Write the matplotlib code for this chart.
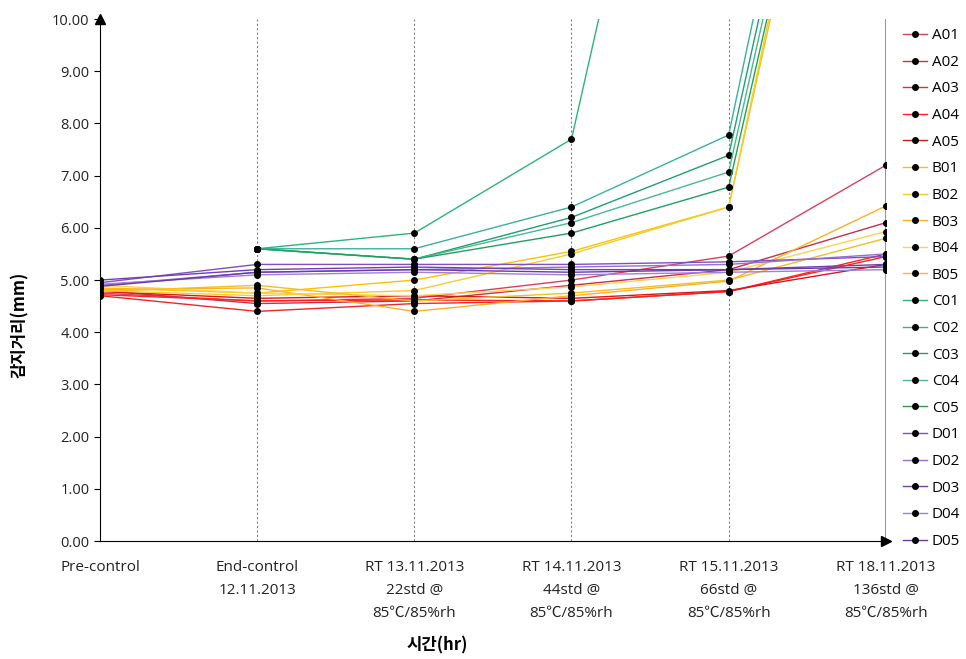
import numpy as np
import matplotlib
matplotlib.use("Agg")
import matplotlib.pyplot as plt

plt.rcParams['font.family'] = ['Open Sans', 'Noto Sans CJK KR', 'DejaVu Sans']

categories = ["Pre-control", "End-control\n12.11.2013", "RT 13.11.2013\n22std @\n85\u2103/85%rh",
              "RT 14.11.2013\n44std @\n85\u2103/85%rh", "RT 15.11.2013\n66std @\n85\u2103/85%rh",
              "RT 18.11.2013\n136std @\n85\u2103/85%rh"]
nan = np.nan
A01 = [4.75, 4.60, 4.65, 5.00, 5.46, 7.20]
A02 = [4.80, 4.55, 4.60, 4.90, 5.20, 6.10]
A03 = [4.70, 4.40, 4.55, 4.60, 4.78, 5.50]
A04 = [4.72, 4.60, 4.62, 4.60, 4.78, 5.45]
A05 = [4.78, 4.65, 4.70, 4.65, 4.80, 5.30]
B01 = [4.85, 4.75, 5.00, 5.55, 6.40, 20.0]
B02 = [4.80, 4.70, 4.80, 5.50, 6.40, 20.5]
B03 = [4.82, 4.85, 4.40, 4.70, 4.98, 6.42]
B04 = [4.90, 4.75, 4.70, 4.87, 5.15, 5.93]
B05 = [4.78, 4.90, 4.60, 4.75, 5.00, 5.80]
C01 = [nan, 5.60, 5.90, 7.70, 21.0, 25.0]
C02 = [nan, 5.60, 5.60, 6.40, 7.78, 22.0]
C03 = [nan, 5.60, 5.40, 6.20, 7.39, 21.0]
C04 = [nan, 5.60, 5.40, 6.10, 7.07, 20.5]
C05 = [nan, 5.60, 5.40, 5.90, 6.78, 20.0]
D01 = [4.95, 5.30, 5.30, 5.30, 5.35, 5.45]
D02 = [4.90, 5.15, 5.20, 5.25, 5.30, 5.50]
D03 = [5.00, 5.20, 5.25, 5.20, 5.20, 5.30]
D04 = [4.92, 5.10, 5.15, 5.10, 5.15, 5.20]
D05 = [4.88, 5.15, 5.20, 5.15, 5.20, 5.25]

series_names = ["A01", "A02", "A03", "A04", "A05", "B01", "B02", "B03", "B04", "B05",
                "C01", "C02", "C03", "C04", "C05", "D01", "D02", "D03", "D04", "D05"]
series_vals = [A01, A02, A03, A04, A05, B01, B02, B03, B04, B05,
               C01, C02, C03, C04, C05, D01, D02, D03, D04, D05]
colors = ['#d8405f', '#c8304a', '#e82a2a', '#ff2020', '#d81818',
          '#ffc000', '#f5cc30', '#ffb020', '#ffd24d', '#f0c020',
          '#2bb57a', '#3cb0a0', '#1fa070', '#4ab890', '#20a060',
          '#8050c0', '#9070d0', '#7040b0', '#a080d0', '#6a3aa8']
yticks = np.arange(0, 10.01, 1.0)

fig = plt.figure(figsize=(9.66, 6.59), dpi=100)
ax = fig.add_axes([0.1035, 0.179, 0.8135, 0.792])
x = np.arange(len(categories))
for name, vals, c in zip(series_names, series_vals, colors):
    ax.plot(x, vals, color=c, lw=1.0, marker='o', markersize=4,
            markerfacecolor='black', markeredgecolor='black', label=name)

ax.set_xlim(0, len(categories) - 1)
ax.set_ylim(0, 10)
ax.set_yticks(yticks)
ax.set_yticklabels([f"{v:.2f}" for v in yticks], fontsize=10.5, color='#222222')
ax.set_xticks(x)
ax.set_xticklabels(categories, fontsize=11, linespacing=1.72, va='top', color='#222222')
ax.tick_params(axis='x', length=0, pad=14)
ax.tick_params(axis='y', length=4, direction='out')
for xi in x[1:-1]:
    ax.axvline(xi, color='#808080', lw=0.8, ls=(0, (2, 2)), zorder=0)
ax.axvline(x[-1], color='#808080', lw=1.2, zorder=0)
ax.spines['top'].set_visible(False)
ax.spines['right'].set_visible(False)
ax.spines['left'].set_color('black')
ax.spines['bottom'].set_color('black')
ax.plot([0], [1], marker='^', color='black', markersize=7, transform=ax.transAxes, clip_on=False)
ax.plot([1], [0], marker='>', color='black', markersize=7, transform=ax.transAxes, clip_on=False)

fig.text(20 / 966, 1 - 325 / 659, "감지거리(mm)", fontsize=12, fontweight='bold',
         rotation=90, ha='center', va='center', family=['Noto Sans CJK KR', 'DejaVu Sans'])
fig.text(437 / 966, 1 - 645 / 659, "시간(hr)", fontsize=12, fontweight='bold', ha='center',
         va='center', family=['Noto Sans CJK KR', 'DejaVu Sans'])

leg = ax.legend(loc='upper left', bbox_to_anchor=(1.01, 1.0), frameon=False, fontsize=11,
                handlelength=1.6, handletextpad=0.3, labelspacing=0.76, borderaxespad=0.2)

fig.savefig("out.png", dpi=100)
